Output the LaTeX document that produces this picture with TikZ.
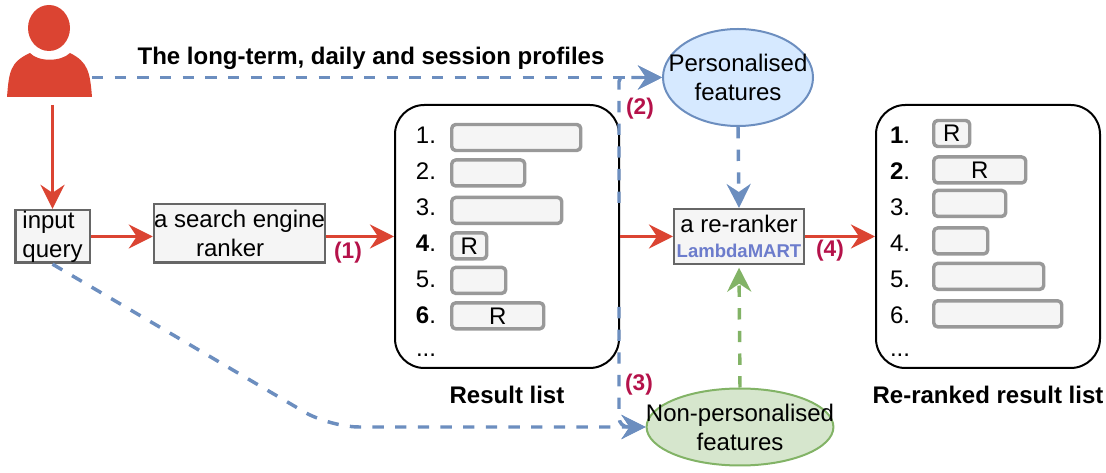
\documentclass[tikz,border=0pt]{standalone}
\usepackage{fontspec}
\setmainfont{Liberation Sans}
\usepackage{xcolor}
\usetikzlibrary{arrows.meta}
\usetikzlibrary{positioning}
\usetikzlibrary{shapes.geometric}
\definecolor{flowred}{HTML}{DB4432}
\definecolor{flowblue}{HTML}{6C8EBF}
\definecolor{flowgreen}{HTML}{82B366}
\definecolor{steplabel}{HTML}{B5124A}
\definecolor{modelblue}{HTML}{6C7CCC}

\begin{document}
\begin{tikzpicture}[
					x=0.75pt, y=-0.75pt,
					every node/.append style={font=\fontsize{18}{21.7}\selectfont},
					headtip/.style={-{Stealth[length=18pt, width=18pt, inset=6pt]}},
					redflow/.style={draw=flowred, line width=2.6pt, headtip},
					blueflow/.style={draw=flowblue, line width=2.6pt, dash pattern=on 8.5pt off 8.5pt, headtip},
					greenflow/.style={draw=flowgreen, line width=2.6pt, dash pattern=on 8.5pt off 8.5pt, headtip},
					block/.style={draw=black!60, fill=black!4, line width=2pt, align=center, inner sep=0pt},
					listbox/.style={draw=black, line width=1.5pt, rounded corners=22pt, minimum width=168pt, minimum height=197.25pt},
					listbar/.style={draw=black!40, fill=black!4, line width=2.6pt, line join=round, inner sep=0pt, minimum height=19.5pt, rounded corners=3pt},
					listnum/.style={inner sep=0pt, outer sep=0pt, minimum height=27pt},
					feature/.style={ellipse, line width=1.5pt, align=center, inner ysep=-2pt},
					steptag/.style={font=\fontsize{17}{20}\selectfont\bfseries, text=steplabel},
					caption/.style={font=\fontsize{18}{20}\selectfont\bfseries}
				]
					\useasboundingbox (0,0) rectangle (1106,473);

					\node[inner sep=0pt, outer sep=0pt, minimum width=63.75pt, minimum height=70.5pt] (user) at (49.5,50) {};
					\fill[flowred] (49,28) ellipse [x radius=21, y radius=23];
					\fill[flowred] (user.south west) .. controls (9,72) and (10,62) .. (30,53) .. controls (38,62) and (61,62) .. (70,53) .. controls (88,62) and (90,72) .. (user.south east) -- cycle;

					\node[block, minimum width=56pt, minimum height=39.5pt, align=left] (query) at (52.5,236.5) {input\\query};
					\node[block, minimum width=126.5pt, minimum height=44pt] (ranker) at (239.5,233.5) {a search engine\\ranker\hspace*{14pt}};

					\node[listbox] (listA) at (507,236.5) {};
					\node[listnum] (numA1) at (426,135) {1.};
					\node[listnum, below=0pt of numA1] (numA2) {2.};
					\node[listnum, below=0pt of numA2] (numA3) {3.};
					\node[listnum, below=0pt of numA3] (numA4) {\textbf{4}.};
					\node[listnum, below=0pt of numA4] (numA5) {5.};
					\node[listnum, below=0pt of numA5] (numA6) {\textbf{6}.};
					\node[listnum, below=3pt of numA6] (numA7) {...};
					\node[listbar, minimum width=96.75pt, anchor=west] (barA1) at (450,137.5) {};
					\node[listbar, minimum width=54.75pt, below=4.5pt of barA1.south west, anchor=north west] (barA2) {};
					\node[listbar, minimum width=82.5pt, below=6pt of barA2.south west, anchor=north west] (barA3) {};
					\node[listbar, minimum width=26.25pt, below=4.5pt of barA3.south west, anchor=north west] (barA4) {R};
					\node[listbar, minimum width=40.5pt, below=3.75pt of barA4.south west, anchor=north west] (barA5) {};
					\node[listbar, minimum width=69pt, below=4.5pt of barA5.south west, anchor=north west] (barA6) {R};
					\node[caption, below=9pt of listA] (captionA) {Result list};

					\node[listbox] (listB) at (988,236.5) {};
					\node[listnum] (numB1) at (900,135) {\textbf{1}.};
					\node[listnum, below=0pt of numB1] (numB2) {\textbf{2}.};
					\node[listnum, below=0pt of numB2] (numB3) {3.};
					\node[listnum, below=0pt of numB3] (numB4) {4.};
					\node[listnum, below=0pt of numB4] (numB5) {5.};
					\node[listnum, below=0pt of numB5] (numB6) {6.};
					\node[listnum, below=3pt of numB6] (numB7) {...};
					\node[listbar, minimum width=27pt, anchor=west] (barB1) at (932,133.5) {R};
					\node[listbar, minimum width=69pt, below=5.25pt of barB1.south west, anchor=north west] (barB2) {R};
					\node[listbar, minimum width=54pt, below=3pt of barB2.south west, anchor=north west] (barB3) {};
					\node[listbar, minimum width=40.5pt, below=6pt of barB3.south west, anchor=north west] (barB4) {};
					\node[listbar, minimum width=82.5pt, below=4.5pt of barB4.south west, anchor=north west] (barB5) {};
					\node[listbar, minimum width=96pt, below=6pt of barB5.south west, anchor=north west] (barB6) {};
					\node[caption, below=9pt of listB] (captionB) {Re-ranked result list};

					\node[block, minimum width=97.5pt, minimum height=41.25pt, line width=1.5pt] (reranker) at (739,236.5) {a re-ranker\\[-2.5pt]{\fontsize{13.9}{18}\selectfont\bfseries\color{modelblue}LambdaMART}};
					\node[feature, draw=flowblue, fill=blue!55!cyan!16, inner xsep=-13pt, minimum width=112.5pt, minimum height=72.75pt] (personal) at (738,77.5) {Personalised\\features};
					\node[feature, draw=flowgreen, fill=flowgreen!33, inner xsep=-21pt, minimum width=139.5pt, minimum height=57.75pt] (nonpersonal) at (740,427) {Non-personalised\\features};

					\node[caption] (profiles) at (371,58) {The long-term, daily and session profiles};
					\node[steptag] (tag1) at (348,253) {(1)};
					\node[steptag] (tag2) at (640,109) {(2)};
					\node[steptag] (tag3) at (639,385) {(3)};
					\node[steptag] (tag4) at (830,251) {(4)};

					\coordinate (branch2) at (619,203);
					\coordinate (branch3) at (619,307);
					\coordinate (bend) at (330,427);

					\draw[redflow, shorten <=6pt] (query.north |- user.south) -- (query.north);
					\draw[redflow] (query.east) -- (ranker.west |- query.east);
					\draw[redflow] (ranker.east |- listA.west) -- (listA.west);
					\draw[redflow] (listA.east) -- (reranker.west);
					\draw[redflow] (reranker.east) -- (listB.west);
					\draw[blueflow] (user.east |- personal.west) -- (personal.west);
					\draw[blueflow, rounded corners=3pt] (branch2) |- (personal.west);
					\draw[blueflow, rounded corners=7pt] (branch3) |- (nonpersonal.west);
					\draw[blueflow, rounded corners=22pt] (query.south) -- (bend) -- (nonpersonal.west);
					\draw[blueflow] (personal.south) -- (reranker.north);
					\draw[greenflow, shorten >=2pt] (nonpersonal.north) -- (reranker.south);
				\end{tikzpicture}
\end{document}
